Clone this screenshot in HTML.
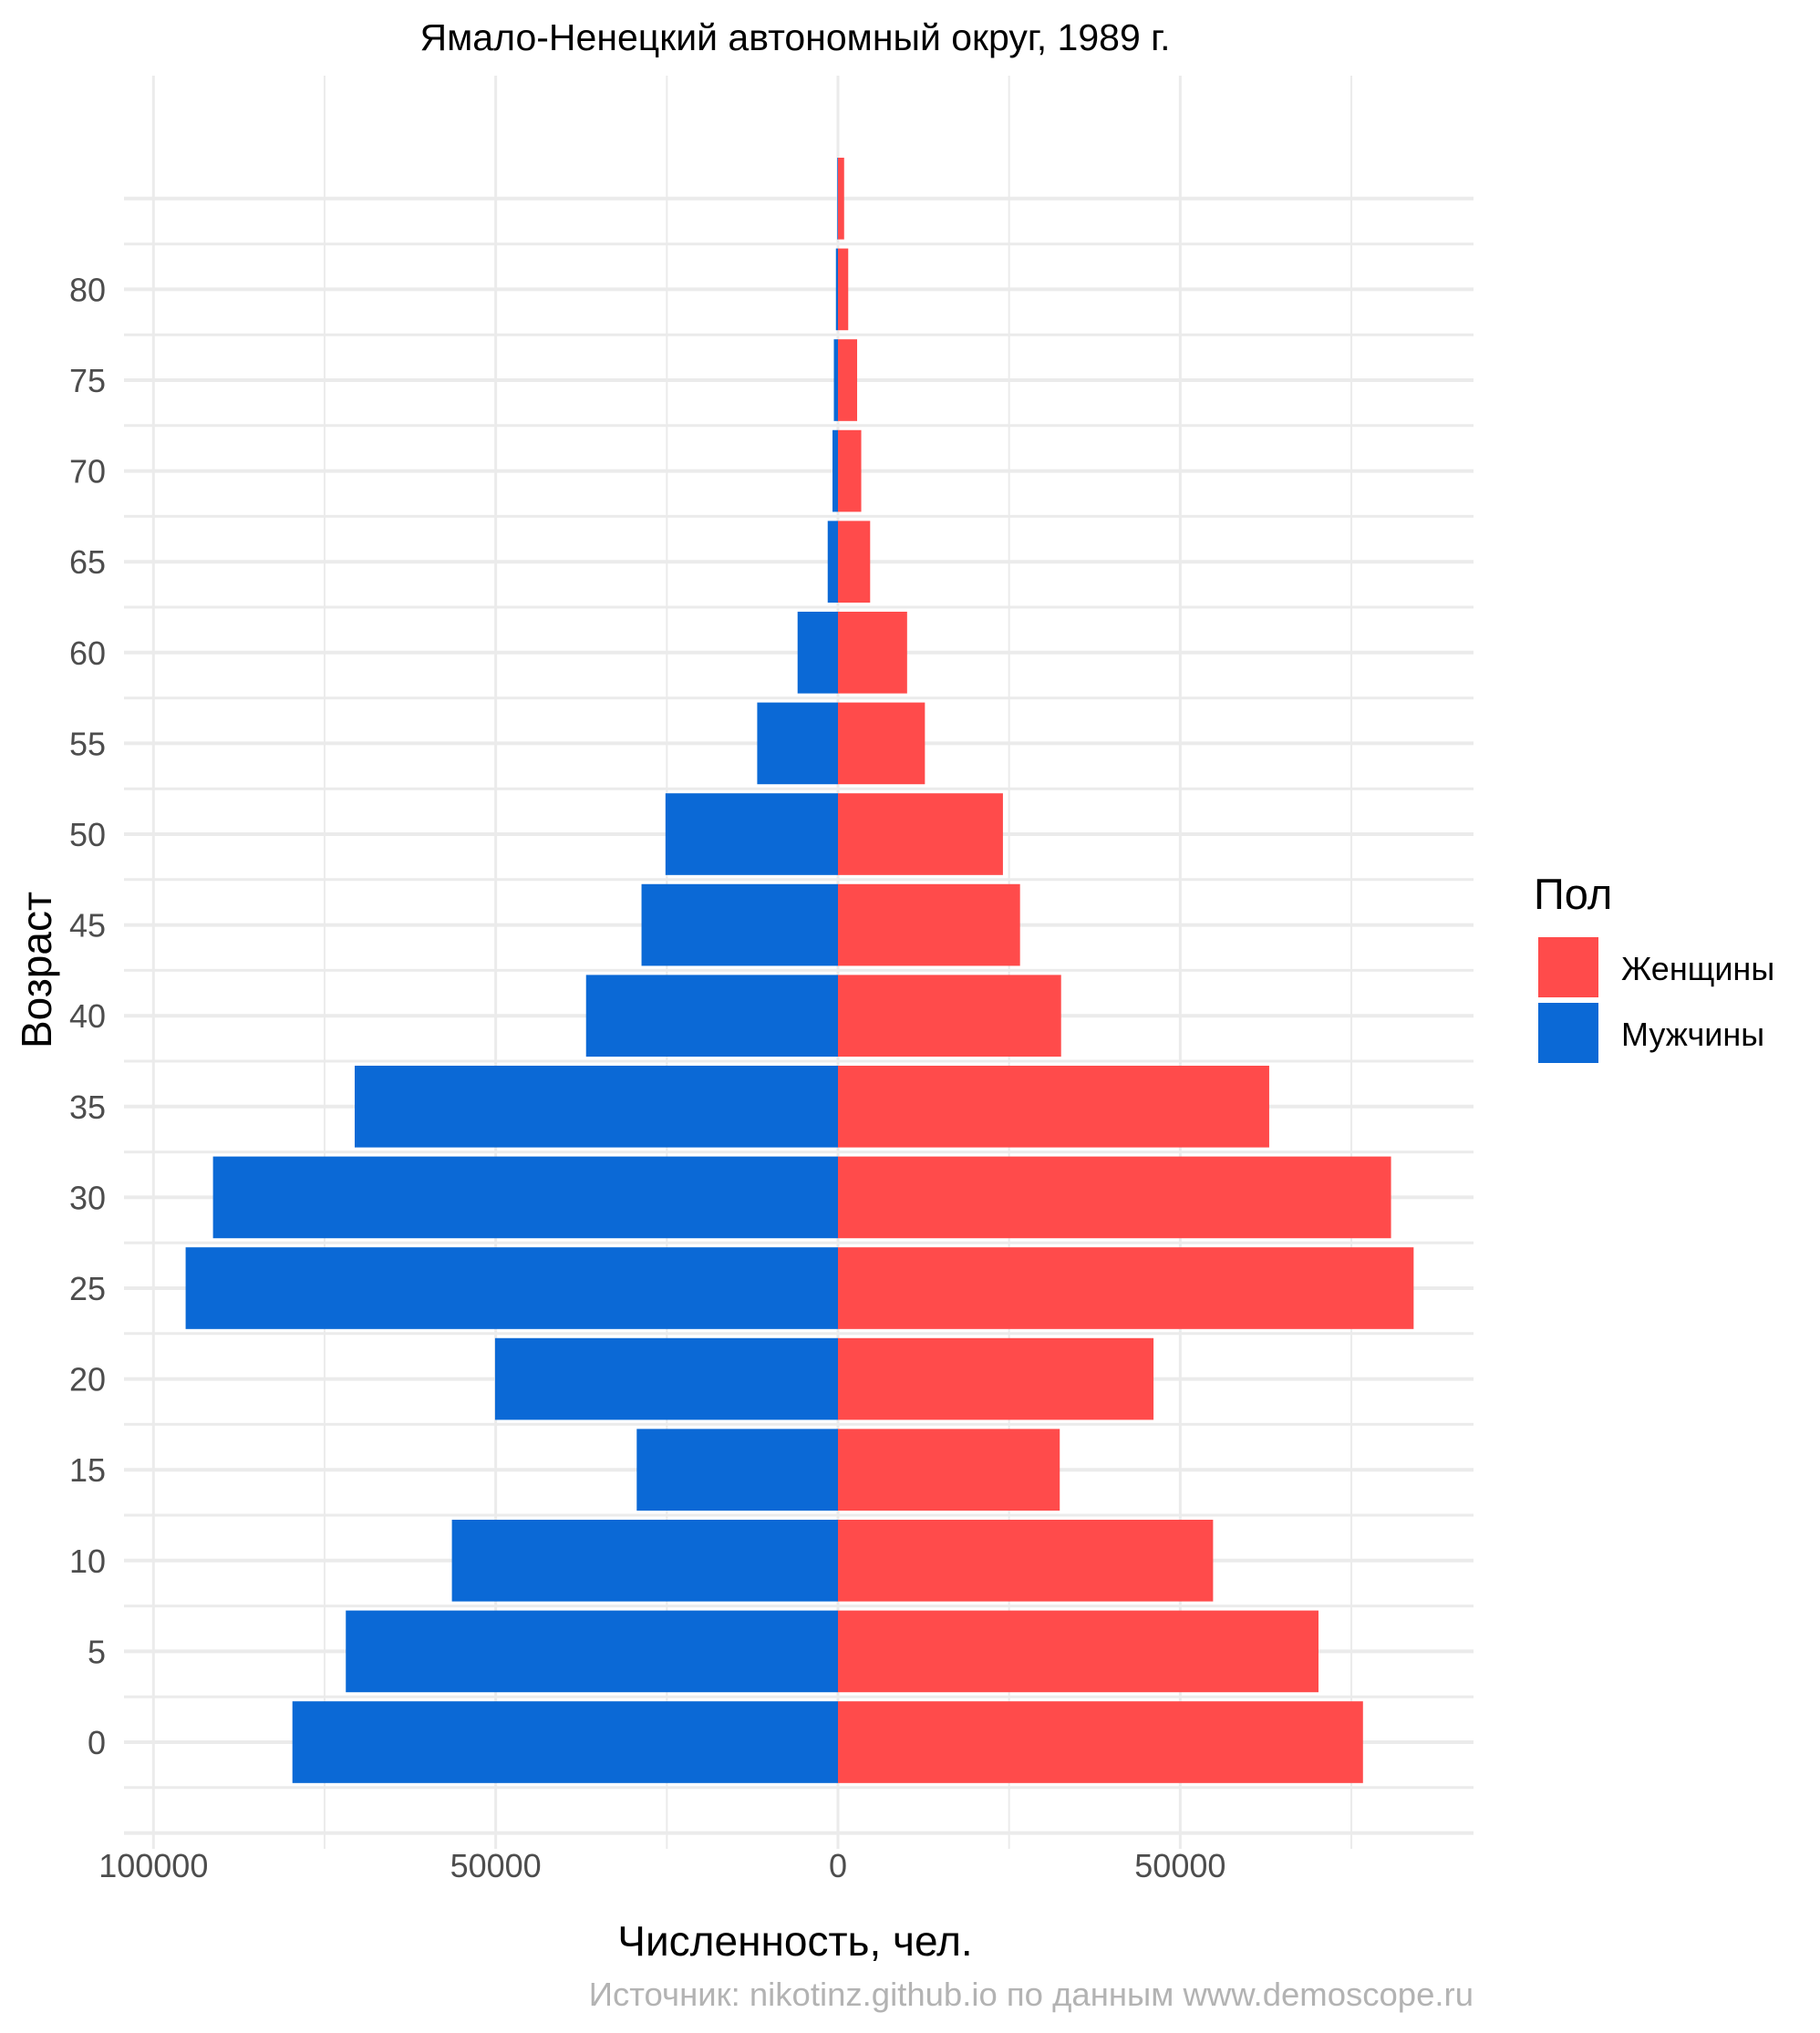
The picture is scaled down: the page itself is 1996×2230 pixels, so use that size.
<!DOCTYPE html>
<html><head><meta charset="utf-8">
<style>
html,body{margin:0;padding:0;background:#fff;}
svg{display:block;font-family:"Liberation Sans",Arial,sans-serif;}
</style></head>
<body>
<svg id="chart" width="1996" height="2230" viewBox="0 0 1996 2230" xmlns="http://www.w3.org/2000/svg">
  <rect x="0" y="0" width="1996" height="2230" fill="#fff"/>
  <text x="872" y="55" font-size="41" text-anchor="middle" fill="#000">Ямало-Ненецкий автономный округ, 1989 г.</text>
  <g id="grid"></g>
  <g id="bars"></g>
  <g id="yticks"></g>
  <g id="xticks"></g>
  <text transform="translate(56,1064) rotate(-90)" font-size="46" text-anchor="middle" fill="#000">Возраст</text>
  <text x="872" y="2145" font-size="46" text-anchor="middle" fill="#000">Численность, чел.</text>
  <text x="1616" y="2200" font-size="36.5" text-anchor="end" fill="#b3b3b3">Источник: nikotinz.github.io по данным www.demoscope.ru</text>
  <g>
    <text x="1682" y="997" font-size="47" fill="#000">Пол</text>
    <rect x="1687" y="1028" width="66" height="66" fill="#ff4b4b"/>
    <text x="1778" y="1075" font-size="36" fill="#000">Женщины</text>
    <rect x="1687" y="1100" width="66" height="66" fill="#0b69d6"/>
    <text x="1778" y="1147" font-size="36" fill="#000">Мужчины</text>
  </g>
</svg>
<script>
const ages = [0,5,10,15,20,25,30,35,40,45,50,55,60,65,70,75,80,85];
const male = [79700,71900,56400,29400,50100,95300,91300,70600,36800,28700,25200,11800,5900,1500,800,600,300,100];
const female = [76700,70200,54800,32400,46100,84100,80800,63000,32600,26600,24100,12700,10100,4700,3400,2800,1500,900];
const xTicks = [-100000,-50000,0,50000];
const xTickLabels = ["100000","50000","0","50000"];
const yTicks = [0,5,10,15,20,25,30,35,40,45,50,55,60,65,70,75,80];

const NS = "http://www.w3.org/2000/svg";
const x0 = 919, kx = 0.007507;
const y0 = 1911, ky = 99.6/5;
const X = v => x0 + v*kx;
const Y = a => y0 - a*ky;
const panelL = 136, panelR = 1616, panelT = 83, panelB = 2028;

function mk(tag, attrs, parent){
  const el = document.createElementNS(NS, tag);
  for (const k in attrs) el.setAttribute(k, attrs[k]);
  parent.appendChild(el);
  return el;
}
const grid = document.getElementById('grid');
for (let v = -100000; v <= 75000; v += 25000) {
  const major = v % 50000 === 0;
  const l = mk('line', {x1:X(v), x2:X(v), y1:panelT, y2:panelB, stroke:'#ebebeb', 'stroke-width': major?3:2}, grid);
  
  
}
for (let a = -5; a <= 85; a += 2.5) {
  const major = a % 5 === 0;
  const y = Y(a);
  const l = mk('line', {x1:panelL, x2:panelR, y1:y, y2:y, stroke:'#ebebeb', 'stroke-width': major?4:3}, grid);
  
  
}
const bars = document.getElementById('bars');
const bh = 0.9*5*ky;
ages.forEach((a,i) => {
  const yc = Y(a);
  const m = mk('rect', {x:X(-male[i]), y:yc-bh/2, width:X(0)-X(-male[i]), height:bh, fill:'#0b69d6'}, bars);
  
  
  const f = mk('rect', {x:X(0), y:yc-bh/2, width:X(female[i])-X(0), height:bh, fill:'#ff4b4b'}, bars);
  
  
});
const yt = document.getElementById('yticks');
yTicks.forEach(a => {
  const t = mk('text', {x:116, y:Y(a)+13, 'font-size':36, 'text-anchor':'end', fill:'#4d4d4d'}, yt);
  t.textContent = String(a);
  
  
});
const xt = document.getElementById('xticks');
xTicks.forEach((v,i) => {
  const t = mk('text', {x:X(v), y:2059, 'font-size':36, 'text-anchor':'middle', fill:'#4d4d4d'}, xt);
  t.textContent = xTickLabels[i];
  
  
});
</script>
</body></html>
